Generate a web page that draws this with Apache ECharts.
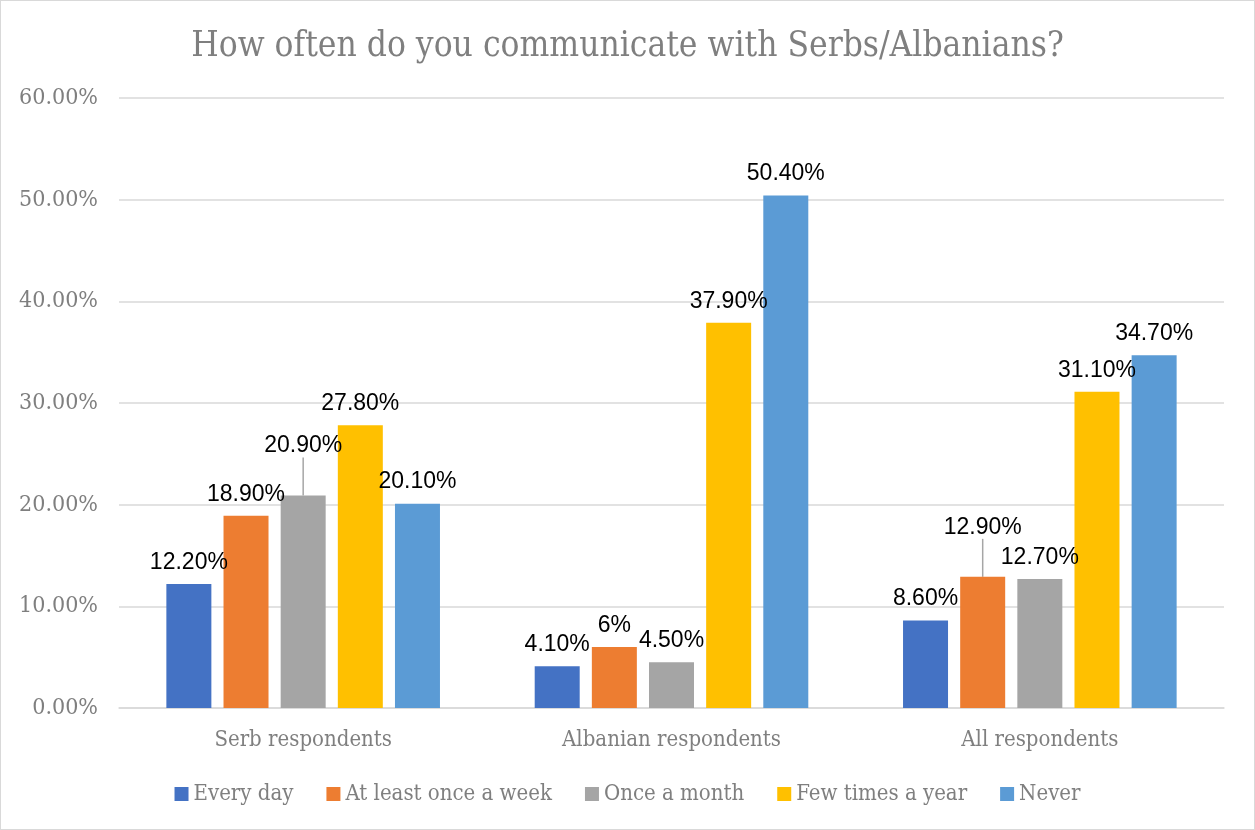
<!DOCTYPE html>
<html>
<head>
<meta charset="utf-8">
<title>How often do you communicate with Serbs/Albanians?</title>
<script src="https://cdn.jsdelivr.net/npm/echarts@6/dist/echarts.min.js"></script>
<style>
  html, body { margin: 0; padding: 0; background: #fff; }
  #chart { width: 1255px; height: 830px; box-sizing: border-box; border: 1px solid #d9d9d9; }
</style>
</head>
<body>
<div id="chart"></div>
<script>
const categories = ['Serb respondents', 'Albanian respondents', 'All respondents']
const seriesNames = ['Every day', 'At least once a week', 'Once a month', 'Few times a year', 'Never']
const everyDay = [12.2, 4.1, 8.6]
const onceAWeek = [18.9, 6, 12.9]
const onceAMonth = [20.9, 4.5, 12.7]
const fewTimesAYear = [27.8, 37.9, 31.1]
const never = [20.1, 50.4, 34.7]
const yTicks = [0, 10, 20, 30, 40, 50, 60]
const colors = ['#4472C4', '#ED7D31', '#A5A5A5', '#FFC000', '#5B9BD5']

// labels that Excel pulled up with a leader line: [seriesIndex, dataIndex]
const movedLabels = [[2, 0], [1, 2]]

const chart = echarts.init(document.getElementById('chart'))

const serif = 'DejaVu Serif Condensed'
const grey = '#7f7f7f'

function fmt(v) {
  return Number.isInteger(v) ? v + '%' : v.toFixed(2) + '%'
}

function isMoved(s, d) {
  return movedLabels.some(m => m[0] === s && m[1] === d)
}

const values = [everyDay, onceAWeek, onceAMonth, fewTimesAYear, never]

chart.setOption({
  animation: false,
  color: colors,
  title: {
    text: 'How often do you communicate with Serbs/Albanians?',
    left: 'center',
    top: 23,
    textStyle: { fontFamily: serif, fontSize: 35, fontWeight: 'normal', color: grey }
  },
  legend: {
    bottom: 19,
    left: 'center',
    itemWidth: 14,
    itemHeight: 14,
    itemGap: 33,
    icon: 'rect',
    textStyle: { fontFamily: serif, fontSize: 22, color: grey }
  },
  grid: {
    left: 118,
    right: 30,
    top: 97,
    bottom: 121
  },
  xAxis: {
    type: 'category',
    data: categories,
    axisTick: { show: false },
    axisLine: { lineStyle: { color: '#d9d9d9', width: 1.5 } },
    axisLabel: { fontFamily: serif, fontSize: 22, color: grey, margin: 21 }
  },
  yAxis: {
    type: 'value',
    min: yTicks[0],
    max: yTicks[yTicks.length - 1],
    interval: 10,
    axisLine: { show: false },
    axisTick: { show: false },
    splitLine: { lineStyle: { color: '#d9d9d9', width: 1.5 } },
    axisLabel: {
      fontFamily: serif, fontSize: 23, color: grey, margin: 21,
      formatter: v => v.toFixed(2) + '%'
    }
  },
  series: seriesNames.map((name, i) => ({
    name,
    type: 'bar',
    data: values[i].map((v, j) => isMoved(i, j)
      ? { value: v, labelLine: { show: true } }
      : v),
    barWidth: 45,
    barGap: '27%',
    label: {
      show: true,
      position: 'top',
      distance: 10,
      fontFamily: 'Liberation Sans',
      fontSize: 23,
      color: '#000',
      formatter: p => fmt(p.value)
    },
    labelLine: {
      show: false,
      lineStyle: { color: '#a6a6a6', width: 1.5 }
    },
    labelLayout: p => isMoved(p.seriesIndex, p.dataIndex) ? { dy: -28 } : {}
  }))
})
</script>
</body>
</html>
